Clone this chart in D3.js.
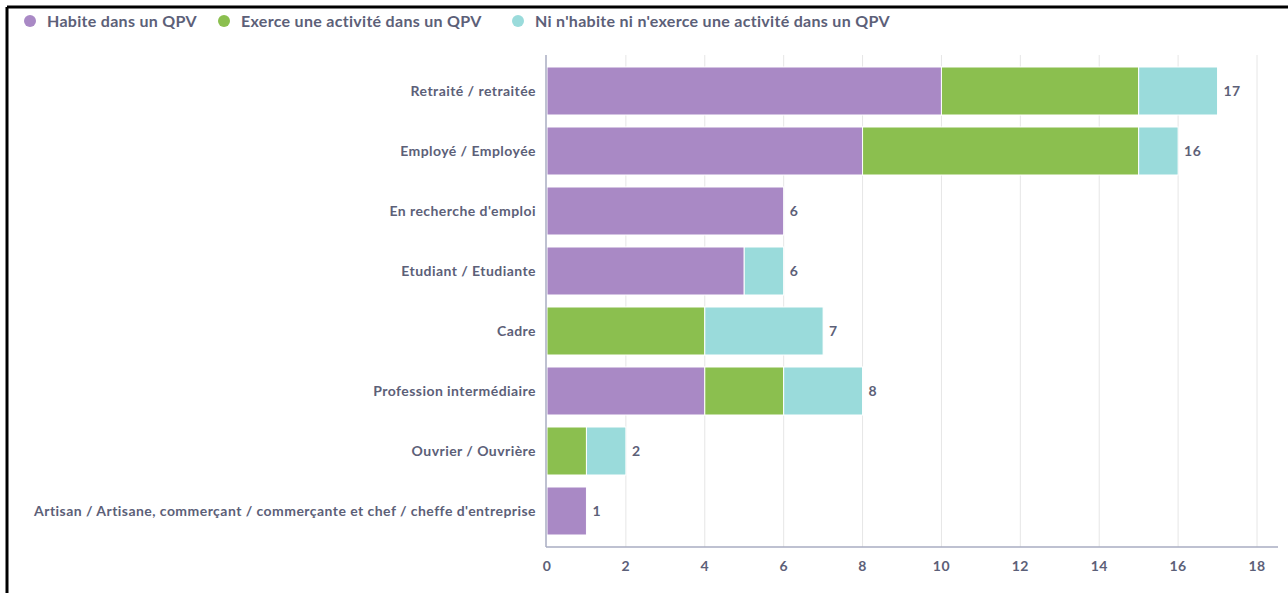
<!DOCTYPE html>
<html lang="fr">
<head>
<meta charset="UTF-8">
<title>Catégories socio-professionnelles et QPV</title>
<script src="https://d3js.org/d3.v7.min.js"></script>
<style>
    body { margin: 0; background: #fff; }
    svg { display: block; font-family: Lato, "Open Sans", sans-serif; }
    .lbl { fill: #5c6078; font-weight: bold; font-size: 14px; letter-spacing: 0.45px; }
    .legend text { fill: #5c6078; font-weight: bold; font-size: 16px; letter-spacing: 0.3px; }
</style>
</head>
<body>
<svg width="1288" height="593"></svg>
<script>
    const categories = [
        "Retraité / retraitée",
        "Employé / Employée",
        "En recherche d'emploi",
        "Etudiant / Etudiante",
        "Cadre",
        "Profession intermédiaire",
        "Ouvrier / Ouvrière",
        "Artisan / Artisane, commerçant / commerçante et chef / cheffe d'entreprise"
    ];
    const seriesNames = [
        "Habite dans un QPV",
        "Exerce une activité dans un QPV",
        "Ni n'habite ni n'exerce une activité dans un QPV"
    ];
    const habite = [10, 8, 6, 5, 0, 4, 0, 1];
    const exerce = [5, 7, 0, 0, 4, 2, 1, 0];
    const ni = [2, 1, 0, 1, 3, 2, 1, 0];
    const xTicks = [0, 2, 4, 6, 8, 10, 12, 14, 16, 18];
    const colors = ["#a989c5", "#8bbf4f", "#9adbdb"];

    const svg = d3.select("svg");

    // cadre noir (capture d'écran)
    svg.append("line").attr("x1", 7).attr("x2", 1288).attr("y1", 7).attr("y2", 7)
        .attr("stroke", "#000").attr("stroke-width", 3);
    svg.append("line").attr("x1", 7).attr("x2", 7).attr("y1", 7).attr("y2", 593)
        .attr("stroke", "#000").attr("stroke-width", 3);

    const rows = categories.map((c, i) => ({ cat: c, habite: habite[i], exerce: exerce[i], ni: ni[i] }));
    const keys = ["habite", "exerce", "ni"];
    const stacked = d3.stack().keys(keys)(rows);

    const x = d3.scaleLinear().domain([0, 18]).range([547, 1257]);
    const y = d3.scaleBand().domain(categories).range([61, 541]).paddingInner(0.2).paddingOuter(0.1);

    // grille
    svg.append("g").selectAll("line").data(xTicks.slice(1)).join("line")
        .attr("x1", d => x(d)).attr("x2", d => x(d))
        .attr("y1", 55).attr("y2", 547)
        .attr("stroke", "#e6e6e6");

    svg.append("g").selectAll("g").data(stacked).join("g")
        .attr("fill", (d, i) => colors[i])
        .selectAll("rect").data(d => d.filter(p => p[1] > p[0])).join("rect")
        .attr("x", d => x(d[0]))
        .attr("y", d => y(d.data.cat))
        .attr("width", d => x(d[1]) - x(d[0]))
        .attr("height", y.bandwidth())
        .attr("stroke", "#fff").attr("stroke-width", 1);

    // axes
    svg.append("line").attr("x1", 546).attr("x2", 1278).attr("y1", 547).attr("y2", 547)
        .attr("stroke", "#a9adc2").attr("stroke-width", 1.5);
    svg.append("line").attr("x1", 546).attr("x2", 546).attr("y1", 55).attr("y2", 547)
        .attr("stroke", "#a9adc2").attr("stroke-width", 1.5);

    svg.append("g").selectAll("text").data(xTicks).join("text")
        .attr("class", "lbl")
        .attr("x", d => x(d)).attr("y", 571)
        .attr("text-anchor", "middle")
        .text(d => d);

    svg.append("g").selectAll("text").data(categories).join("text")
        .attr("class", "lbl")
        .attr("x", 536).attr("y", d => y(d) + y.bandwidth() / 2 + 5)
        .attr("text-anchor", "end")
        .text(d => d);

    // totaux
    svg.append("g").selectAll("text").data(rows).join("text")
        .attr("class", "lbl")
        .attr("x", d => x(d.habite + d.exerce + d.ni) + 6)
        .attr("y", d => y(d.cat) + y.bandwidth() / 2 + 5)
        .text(d => d.habite + d.exerce + d.ni);

    // légende
    const legendX = [30, 224, 518];
    const lg = svg.append("g").attr("class", "legend").selectAll("g").data(seriesNames).join("g")
        .attr("transform", (d, i) => `translate(${legendX[i]},21)`);
    lg.append("circle").attr("r", 6).attr("fill", (d, i) => colors[i]);
    lg.append("text").attr("x", 17).attr("y", 5.5).text(d => d);
</script>
</body>
</html>
